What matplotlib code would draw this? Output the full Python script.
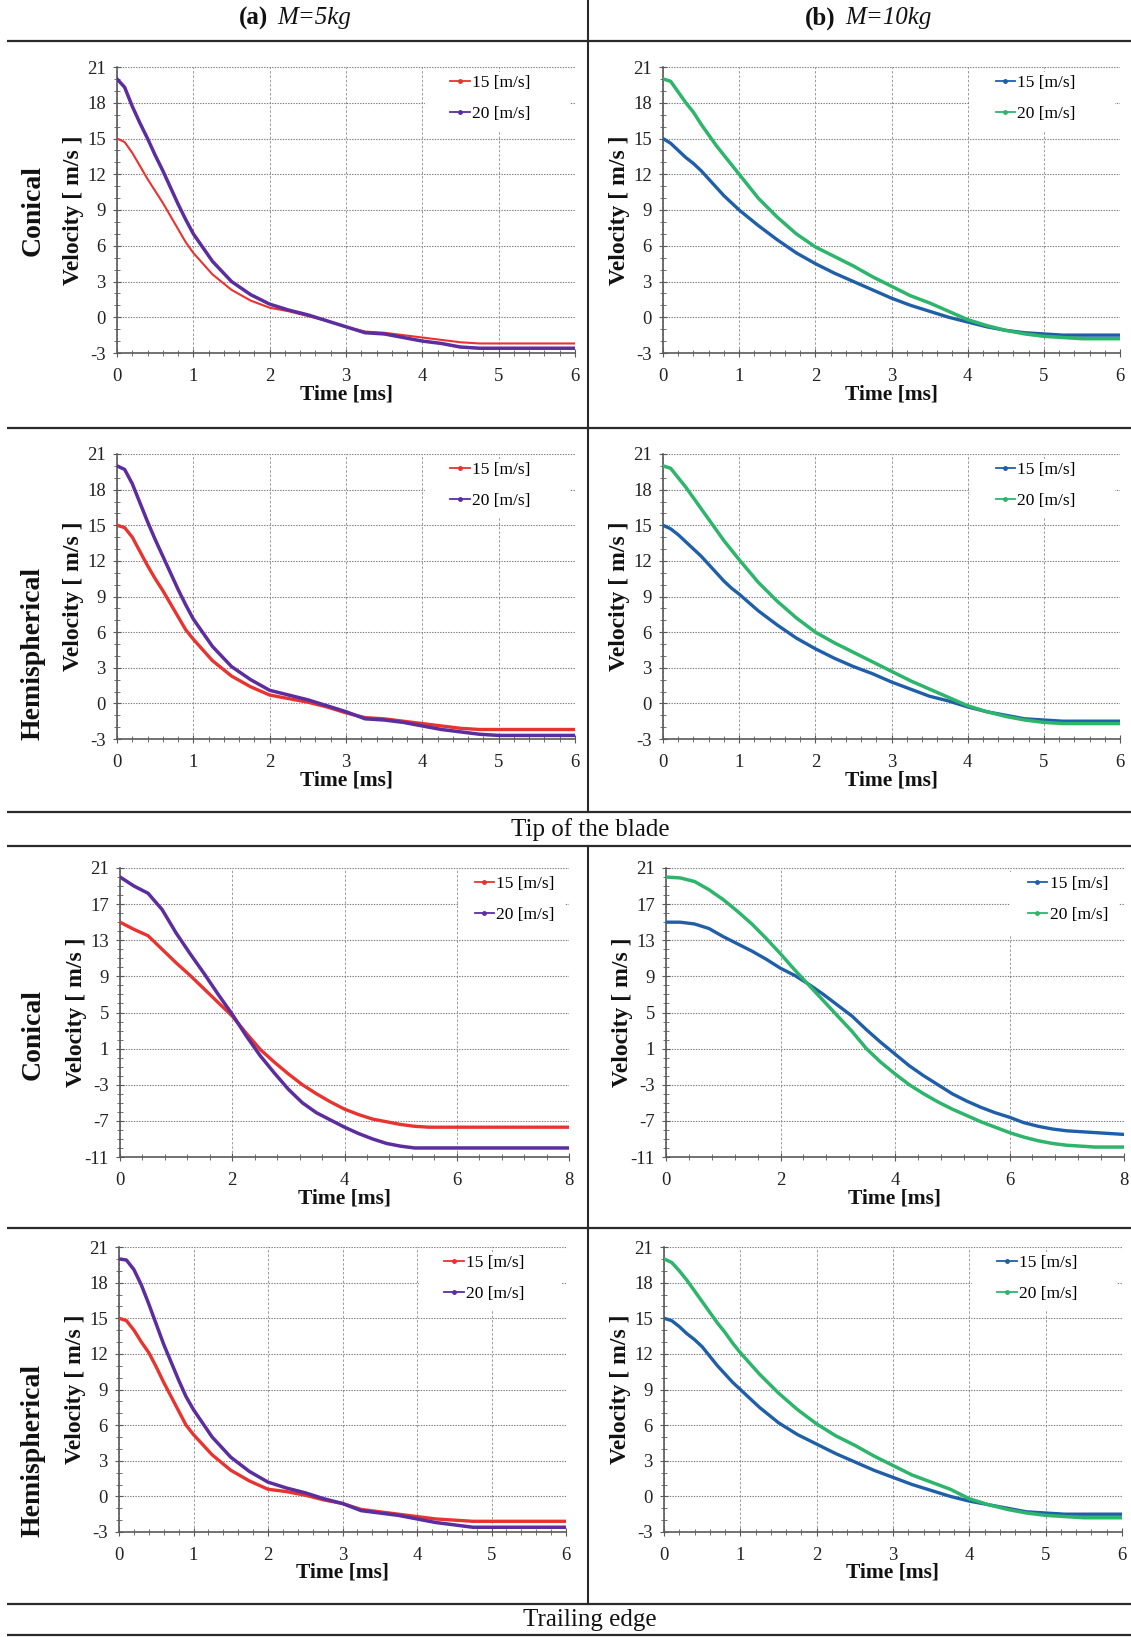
"""Velocity histories of the blade for two impactor shapes and masses."""

import matplotlib
matplotlib.use('Agg')
import matplotlib.pyplot as plt
from matplotlib.lines import Line2D
from matplotlib.patches import Rectangle
from matplotlib.ticker import FixedLocator, MultipleLocator, AutoMinorLocator
from matplotlib.offsetbox import TextArea, HPacker, AnnotationBbox

plt.rcParams['font.family'] = 'serif'
plt.rcParams['font.serif'] = ['Liberation Serif', 'DejaVu Serif']
plt.rcParams['axes.unicode_minus'] = False

W, H = 1131, 1637

# Data ----------------------------------------------------------------------

t6 = [0, 0.1, 0.2, 0.3, 0.4, 0.5, 0.6, 0.7, 0.8, 0.9, 1.0,
      1.25, 1.5, 1.75, 2.0, 2.25, 2.5, 2.75, 3.0, 3.25, 3.5, 3.75,
      4.0, 4.25, 4.5, 4.75, 5.0, 5.25, 5.5, 5.75, 6.0]

t8 = [0, 0.25, 0.5, 0.75, 1.0, 1.25, 1.5, 1.75, 2.0, 2.25, 2.5, 2.75,
      3.0, 3.25, 3.5, 3.75, 4.0, 4.25, 4.5, 4.75, 5.0, 5.25, 5.5, 5.75,
      6.0, 6.25, 6.5, 6.75, 7.0, 7.25, 7.5, 7.75, 8.0]

# tip of the blade, conical
tip_con_m5_v15 = [15.0, 14.7, 13.8, 12.7, 11.6, 10.6, 9.6, 8.5, 7.4, 6.3, 5.4,
                  3.6, 2.3, 1.4, 0.8, 0.5, 0.1, -0.3, -0.8, -1.2, -1.3, -1.5,
                  -1.7, -1.9, -2.1, -2.2, -2.2, -2.2, -2.2, -2.2, -2.2]
tip_con_m5_v20 = [20.0, 19.3, 17.7, 16.3, 15.0, 13.6, 12.3, 10.9, 9.5, 8.2, 7.0,
                  4.7, 3.0, 1.9, 1.1, 0.6, 0.2, -0.3, -0.8, -1.3, -1.4, -1.7,
                  -2.0, -2.2, -2.5, -2.6, -2.6, -2.6, -2.6, -2.6, -2.6]
tip_con_m10_v15 = [15.0, 14.6, 14.0, 13.4, 12.9, 12.3, 11.6, 10.9, 10.2, 9.6, 9.0,
                   7.7, 6.5, 5.4, 4.5, 3.7, 3.0, 2.3, 1.6, 1.0, 0.5, 0.0,
                   -0.4, -0.8, -1.1, -1.3, -1.4, -1.5, -1.5, -1.5, -1.5]
tip_con_m10_v20 = [20.0, 19.8, 18.9, 18.0, 17.2, 16.2, 15.3, 14.4, 13.6, 12.8, 12.0,
                   10.0, 8.4, 7.0, 5.9, 5.1, 4.3, 3.4, 2.6, 1.8, 1.2, 0.5,
                   -0.2, -0.7, -1.1, -1.4, -1.6, -1.7, -1.8, -1.8, -1.8]

# tip of the blade, hemispherical
tip_hem_m5_v15 = [15.0, 14.8, 14.0, 12.8, 11.6, 10.5, 9.5, 8.4, 7.3, 6.2, 5.4,
                  3.6, 2.3, 1.4, 0.7, 0.4, 0.1, -0.3, -0.8, -1.2, -1.3, -1.5,
                  -1.7, -1.9, -2.1, -2.2, -2.2, -2.2, -2.2, -2.2, -2.2]
tip_hem_m5_v20 = [20.0, 19.7, 18.5, 16.9, 15.3, 13.8, 12.4, 11.0, 9.6, 8.3, 7.1,
                  4.8, 3.1, 2.0, 1.1, 0.7, 0.3, -0.2, -0.7, -1.3, -1.4, -1.6,
                  -1.9, -2.2, -2.4, -2.6, -2.7, -2.7, -2.7, -2.7, -2.7]
tip_hem_m10_v15 = [15.0, 14.7, 14.2, 13.6, 13.0, 12.4, 11.7, 11.0, 10.3, 9.7, 9.2,
                   7.8, 6.6, 5.5, 4.6, 3.8, 3.1, 2.5, 1.8, 1.2, 0.6, 0.2,
                   -0.3, -0.7, -1.0, -1.3, -1.4, -1.5, -1.5, -1.5, -1.5]
tip_hem_m10_v20 = [20.0, 19.8, 19.0, 18.2, 17.3, 16.4, 15.5, 14.6, 13.7, 12.9, 12.1,
                   10.2, 8.6, 7.2, 6.0, 5.1, 4.3, 3.5, 2.7, 1.9, 1.2, 0.5,
                   -0.2, -0.7, -1.1, -1.4, -1.6, -1.7, -1.7, -1.7, -1.7]

# trailing edge, conical
te_con_m5_v15 = [15.0, 14.2, 13.5, 12.0, 10.5, 9.1, 7.6, 6.1, 4.6, 2.7, 0.9,
                 -0.5, -1.8, -3.0, -4.0, -4.9, -5.7, -6.3, -6.8, -7.1, -7.4,
                 -7.6, -7.7, -7.7, -7.7, -7.7, -7.7, -7.7, -7.7, -7.7, -7.7,
                 -7.7, -7.7]
te_con_m5_v20 = [20.0, 19.0, 18.2, 16.4, 13.8, 11.5, 9.3, 7.0, 4.8, 2.4, 0.2,
                 -1.7, -3.5, -5.0, -6.1, -6.9, -7.7, -8.4, -9.0, -9.5, -9.8,
                 -10.0, -10.0, -10.0, -10.0, -10.0, -10.0, -10.0, -10.0, -10.0,
                 -10.0, -10.0, -10.0]
te_con_m10_v15 = [15.0, 15.0, 14.8, 14.3, 13.4, 12.6, 11.8, 10.9, 9.9, 9.1, 8.1,
                  7.0, 5.8, 4.6, 3.1, 1.7, 0.4, -0.9, -2.0, -3.0, -4.0, -4.8,
                  -5.5, -6.1, -6.6, -7.2, -7.6, -7.9, -8.1, -8.2, -8.3, -8.4,
                  -8.5]
te_con_m10_v20 = [20.0, 19.9, 19.5, 18.6, 17.5, 16.2, 14.8, 13.2, 11.5, 9.7, 8.0,
                  6.3, 4.6, 2.9, 1.0, -0.5, -1.8, -3.0, -4.0, -4.9, -5.7, -6.4,
                  -7.1, -7.7, -8.3, -8.8, -9.2, -9.5, -9.7, -9.8, -9.9, -9.9,
                  -9.9]

# trailing edge, hemispherical
te_hem_m5_v15 = [15.0, 14.8, 14.0, 13.0, 12.1, 10.9, 9.6, 8.4, 7.2, 6.0, 5.2,
                 3.5, 2.2, 1.3, 0.6, 0.4, 0.1, -0.3, -0.6, -1.1, -1.3, -1.5,
                 -1.7, -1.9, -2.0, -2.1, -2.1, -2.1, -2.1, -2.1, -2.1]
te_hem_m5_v20 = [20.0, 19.9, 19.1, 17.8, 16.2, 14.5, 12.8, 11.3, 9.8, 8.4, 7.3,
                 5.0, 3.3, 2.1, 1.2, 0.7, 0.3, -0.2, -0.6, -1.2, -1.4, -1.6,
                 -1.9, -2.2, -2.4, -2.6, -2.6, -2.6, -2.6, -2.6, -2.6]
te_hem_m10_v15 = [15.0, 14.8, 14.3, 13.7, 13.2, 12.6, 11.8, 11.0, 10.3, 9.6, 9.0,
                  7.5, 6.2, 5.2, 4.4, 3.6, 2.9, 2.2, 1.6, 1.0, 0.5, 0.0,
                  -0.4, -0.7, -1.0, -1.3, -1.4, -1.5, -1.5, -1.5, -1.5]
te_hem_m10_v20 = [20.0, 19.7, 19.0, 18.2, 17.3, 16.4, 15.5, 14.6, 13.8, 12.9, 12.1,
                  10.3, 8.7, 7.3, 6.1, 5.1, 4.3, 3.4, 2.6, 1.8, 1.2, 0.6,
                  -0.2, -0.7, -1.1, -1.4, -1.6, -1.7, -1.8, -1.8, -1.8]

legend_labels = ['15 [m/s]', '20 [m/s]']
row_names = ['Conical', 'Hemispherical', 'Conical', 'Hemispherical']
col_tags = ['(a)', '(b)']
col_masses = ['M=5kg', 'M=10kg']
section_names = ['Tip of the blade', 'Trailing edge']
yticks_short = list(range(-3, 22, 3))
yticks_long = list(range(-11, 22, 4))

RED, PURPLE = '#e8332f', '#5b2d9e'
BLUE, GREEN = '#1f5fa8', '#2db56c'
INK = '#2a2a2a'

# Figure and page frame (pixel coordinates) ---------------------------------

fig = plt.figure(figsize=(W / 100, H / 100), dpi=100)
bg = fig.add_axes([0, 0, 1, 1], zorder=-1)
bg.set_xlim(0, W)
bg.set_ylim(H, 0)
bg.axis('off')

for y in [41, 428, 812, 846, 1228, 1604, 1635]:
    bg.plot([7, W], [y, y], color=INK, lw=1.6, solid_capstyle='butt')
bg.plot([588, 588], [0, 812], color=INK, lw=1.5)
bg.plot([588, 588], [846, 1604], color=INK, lw=1.5)

for cx, tag, mass in zip([295, 868], col_tags, col_masses):
    pack = HPacker(children=[
        TextArea(tag, textprops=dict(fontsize=18, fontweight='bold', color='#111111')),
        TextArea(mass, textprops=dict(fontsize=18, fontstyle='italic', color='#111111'))],
        pad=0, sep=7, align='baseline')
    bg.add_artist(AnnotationBbox(pack, (cx, 18), xycoords='data', frameon=False,
                                 box_alignment=(0.5, 0.5)))

bg.text(590, 830, section_names[0], fontsize=18, ha='center', va='center', color='#111111')
bg.text(590, 1620, section_names[1], fontsize=18, ha='center', va='center', color='#111111')

# Panels --------------------------------------------------------------------

# (left x0, x1), (right x0, x1), (y top, y bottom), row label centre y
rows = [
    ((117, 575), (663, 1120), (67, 353), 211),
    ((117, 575), (663, 1120), (454, 739), 653),
    ((120, 569), (666, 1124), (868, 1157), 1035),
    ((119, 566), (664, 1122), (1247, 1532), 1450),
]

panel_data = [
    (t6, tip_con_m5_v15, tip_con_m5_v20, tip_con_m10_v15, tip_con_m10_v20),
    (t6, tip_hem_m5_v15, tip_hem_m5_v20, tip_hem_m10_v15, tip_hem_m10_v20),
    (t8, te_con_m5_v15, te_con_m5_v20, te_con_m10_v15, te_con_m10_v20),
    (t6, te_hem_m5_v15, te_hem_m5_v20, te_hem_m10_v15, te_hem_m10_v20),
]


def draw_panel(xs, ys, t, s15, s20, colors, red_thin=False):
    """Draw one velocity panel at pixel box xs=(x0, x1), ys=(top, bottom)."""
    x0, x1 = xs
    top, bottom = ys
    wpx, hpx = x1 - x0, bottom - top
    ax = fig.add_axes([x0 / W, 1 - bottom / H, wpx / W, hpx / H])

    long_run = t[-1] > 6
    lw15 = 1.5 if red_thin else 2.4
    ax.plot(t, s15, color=colors[0], lw=lw15, zorder=3)
    ax.plot(t, s20, color=colors[1], lw=2.5, zorder=3)

    if long_run:
        ax.set_xlim(0, 8)
        ax.set_ylim(-11, 21)
        ax.xaxis.set_major_locator(MultipleLocator(2))
        ax.yaxis.set_major_locator(FixedLocator(yticks_long))
        ax.yaxis.set_minor_locator(MultipleLocator(1))
        box = (0.752, 0.769, 0.238, 0.218)
        leg_x = 0.790
    else:
        ax.set_xlim(0, 6)
        ax.set_ylim(-3, 21)
        ax.xaxis.set_major_locator(MultipleLocator(1))
        ax.yaxis.set_major_locator(FixedLocator(yticks_short))
        ax.yaxis.set_minor_locator(MultipleLocator(1))
        box = (0.672, 0.775, 0.318, 0.208)
        leg_x = 0.728
    ax.xaxis.set_minor_locator(AutoMinorLocator(5))

    ax.grid(True, which='major', axis='y', color='#7a7a7a',
            linestyle=(0, (1.2, 1.2)), lw=0.8)
    ax.grid(True, which='major', axis='x', color='#9a9a9a',
            linestyle=(0, (2.5, 2)), lw=0.7)

    for side in ['top', 'right']:
        ax.spines[side].set_visible(False)
    for side in ['left', 'bottom']:
        ax.spines[side].set_color('#5a5a5a')
        ax.spines[side].set_linewidth(1.2)

    ax.tick_params(which='major', direction='inout', length=6, width=0.8,
                   color='#5a5a5a', labelsize=13.5, labelcolor='#222222')
    ax.tick_params(which='minor', direction='inout', length=4, width=0.6,
                   color='#5a5a5a')
    ax.tick_params(axis='y', which='major', pad=5)
    ax.tick_params(axis='x', which='major', pad=8)

    ax.set_xlabel('Time [ms]', fontsize=15.5, fontweight='bold', color='#111111')
    ax.xaxis.set_label_coords(0.5, -31 / hpx)
    ax.set_ylabel('Velocity [ m/s ]', fontsize=17, fontweight='bold', color='#111111')
    ax.yaxis.set_label_coords(-33 / wpx, 0.5)

    # white legend area hiding the gridlines, as in the spreadsheet original
    ax.add_patch(Rectangle(box[:2], box[2], box[3], transform=ax.transAxes,
                           facecolor='white', edgecolor='none', zorder=2))
    handles = [Line2D([], [], color=c, lw=1.3, marker='o', ms=2.5) for c in colors]
    ax.legend(handles, legend_labels, loc='upper left',
              bbox_to_anchor=(leg_x, 1 - 8 / hpx), frameon=False, fontsize=12.5,
              borderpad=0, borderaxespad=0, handlelength=1.1,
              handletextpad=0.15, labelspacing=0.85)
    return ax


for i, ((lx, rx, ys, label_y), (t, a15, a20, b15, b20)) in enumerate(zip(rows, panel_data)):
    draw_panel(lx, ys, t, a15, a20, (RED, PURPLE), red_thin=(i == 0))
    draw_panel(rx, ys, t, b15, b20, (BLUE, GREEN))
    bg.text(33, label_y, row_names[i], rotation=90, fontsize=20, fontweight='bold',
            ha='center', va='center', color='#111111')

fig.savefig('out.png', dpi=100)
